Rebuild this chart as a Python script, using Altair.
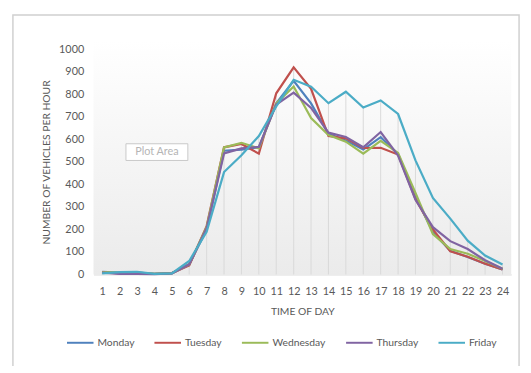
import altair as alt
import pandas as pd

hours = list(range(1, 25))
days = ["Monday", "Tuesday", "Wednesday", "Thursday", "Friday"]
colors = ["#4F81BD", "#C0504D", "#9BBB59", "#8064A2", "#4BACC6"]
y_ticks = list(range(0, 1001, 100))

monday = [12, 8, 8, 3, 5, 45, 200, 550, 555, 565, 760, 860, 760, 625, 595, 555, 610, 535, 345, 188, 105, 78, 48, 22]
tuesday = [10, 5, 5, 3, 6, 40, 215, 565, 580, 537, 805, 920, 825, 615, 605, 562, 563, 533, 335, 200, 103, 79, 48, 22]
wednesday = [10, 8, 8, 3, 6, 45, 210, 565, 585, 560, 760, 835, 695, 620, 590, 537, 594, 540, 362, 180, 113, 92, 60, 25]
thursday = [8, 3, 3, 2, 5, 45, 205, 538, 560, 567, 755, 808, 740, 630, 611, 565, 633, 528, 332, 210, 148, 113, 63, 25]
friday = [5, 10, 12, 3, 5, 60, 190, 455, 530, 615, 747, 865, 834, 761, 812, 742, 773, 713, 507, 340, 248, 150, 84, 44]

series = [monday, tuesday, wednesday, thursday, friday]
rows = []
for d, vals in zip(days, series):
    for h, v in zip(hours, vals):
        rows.append({"hour": h, "day": d, "value": v})
df = pd.DataFrame(rows)
drop = pd.DataFrame({"hour": hours, "top": [max(s[i] for s in series) for i in range(24)]})

W, H = 425, 229
FONT = "Lato"
GREY = "#595959"

xs = alt.Scale(domain=[0.5, 24.5], nice=False, zero=False)
ys = alt.Scale(domain=[0, 1000], nice=False)

x_axis = alt.Axis(values=hours, format="d", ticks=False, grid=False,
                  labelOverlap=False, labelFlush=False,
                  domainColor="#d9d9d9", labelPadding=11, titlePadding=11)
y_axis = alt.Axis(values=y_ticks, format="d", ticks=False, grid=False,
                  labelOverlap=False, labelFlush=False,
                  domain=False, labelPadding=10, titlePadding=7)
X_TITLE = "TIME OF DAY"
Y_TITLE = "NUMBER OF VEHICLES PER HOUR"

bg = alt.Chart(pd.DataFrame({"a": [0]})).mark_rect(
    color=alt.LinearGradient(
        gradient="linear", x1=0, y1=0, x2=0, y2=1,
        stops=[alt.GradientStop(offset=0, color="#ffffff"),
               alt.GradientStop(offset=1, color="#ebebeb")]
    )
).encode(x=alt.value(0), x2=alt.value(W), y=alt.value(-9), y2=alt.value(H))

frame = alt.Chart(pd.DataFrame({"a": [0]})).mark_rect(
    fill=None, stroke="#d0d0d0", strokeWidth=1.5
).encode(x=alt.value(-82), x2=alt.value(433), y=alt.value(-35), y2=alt.value(323))

rules = alt.Chart(drop).mark_rule(color="#d9d9d9", strokeWidth=1).encode(
    x=alt.X("hour:Q", scale=xs, axis=x_axis, title=X_TITLE),
    y=alt.Y("top:Q", scale=ys, axis=y_axis, title=Y_TITLE),
    y2=alt.datum(0),
)

lines = alt.Chart(df).mark_line(strokeWidth=2.25).encode(
    x=alt.X("hour:Q", scale=xs, title=X_TITLE, axis=x_axis),
    y=alt.Y("value:Q", scale=ys, title=Y_TITLE, axis=y_axis),
    color=alt.Color("day:N", sort=days,
                    scale=alt.Scale(domain=days, range=colors),
                    legend=alt.Legend(title=None, orient="none", direction="horizontal",
                                      legendX=-28, legendY=284, columns=5,
                                      symbolType="stroke", symbolSize=729,
                                      symbolStrokeWidth=2, columnPadding=16,
                                      labelOffset=3, labelFontSize=10.5,
                                      labelColor=GREY, labelFont=FONT)),
    detail="day:N",
)

box = alt.Chart(pd.DataFrame({"a": [0]})).mark_rect(
    fill="#ffffff", stroke="#c8c8c8", strokeWidth=1
).encode(x=alt.value(33), x2=alt.value(96), y=alt.value(96), y2=alt.value(113))
boxtxt = alt.Chart(pd.DataFrame({"t": ["Plot Area"]})).mark_text(
    font=FONT, fontSize=11, color="#b5b5b5", align="center", baseline="middle"
).encode(x=alt.value(64.5), y=alt.value(104.5), text="t:N")

chart = alt.layer(frame, bg, rules, lines, box, boxtxt).properties(
    width=W, height=H,
    autosize=alt.AutoSizeParams(type="none"),
    padding={"left": 87, "top": 39, "right": 12, "bottom": 90},
).configure_view(stroke=None).configure_axis(
    labelFont=FONT, titleFont=FONT, labelColor=GREY, titleColor=GREY,
    labelFontSize=11, titleFontSize=10.5, titleFontWeight="normal"
)

chart.save("out.html", embed_options={"renderer": "svg", "actions": False})
